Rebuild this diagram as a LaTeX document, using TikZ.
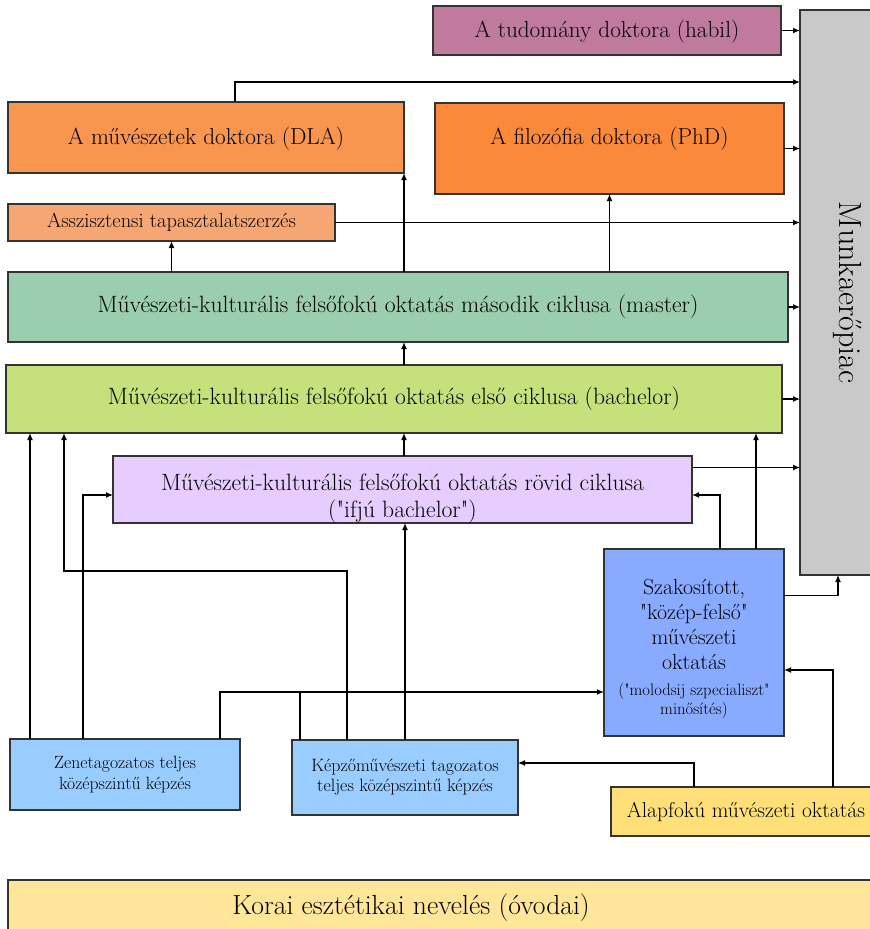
\documentclass[tikz,border=0pt]{standalone}
\usepackage{fontspec}
\setmainfont{Latin Modern Roman}[Ligatures=TeXOff]
\usetikzlibrary{arrows.meta}

\definecolor{habilc}{RGB}{192,122,158}
\definecolor{munkac}{RGB}{201,201,201}
\definecolor{dlac}{RGB}{248,150,80}
\definecolor{phdc}{RGB}{250,138,58}
\definecolor{asszc}{RGB}{246,166,115}
\definecolor{masterc}{RGB}{155,205,175}
\definecolor{bachc}{RGB}{198,224,124}
\definecolor{rovidc}{RGB}{230,204,255}
\definecolor{szakc}{RGB}{136,170,255}
\definecolor{kozepc}{RGB}{153,204,255}
\definecolor{alapc}{RGB}{255,224,120}
\definecolor{koraic}{RGB}{255,230,153}

\tikzset{
  box/.style={draw=black!80, line width=1.4pt, anchor=north west,
    inner sep=0pt, outer sep=0pt, align=center},
  arr/.style={line width=1.3pt, -{Latex[length=7pt,width=6pt]}},
  ln/.style={line width=1.3pt},
}

\begin{document}
\begin{tikzpicture}[x=1pt,y=-1pt]
  \useasboundingbox (0,0) rectangle (870,929);

  \node[box, fill=habilc, minimum width=348pt, minimum height=49pt, text depth=3pt,
    font=\fontsize{23.2}{27}\selectfont] (habil) at (433,6) {A tudomány doktora (habil)};
  \node[box, fill=munkac, minimum width=95pt, minimum height=565pt,
    font=\fontsize{32}{36}\selectfont] (munka) at (800,10) {\rotatebox{-90}{Munkaerőpiac}};
  \node[box, fill=dlac, minimum width=396pt, minimum height=71pt, text depth=3pt,
    font=\fontsize{23.2}{27}\selectfont] (dla) at (8,102) {A művészetek doktora (DLA)};
  \node[box, fill=phdc, minimum width=349pt, minimum height=91pt, text depth=25pt,
    font=\fontsize{23.2}{27}\selectfont] (phd) at (435,103) {A filozófia doktora (PhD)};
  \node[box, fill=asszc, minimum width=327pt, minimum height=37pt,
    font=\fontsize{20.5}{24}\selectfont] (assz) at (8,204) {Asszisztensi tapasztalatszerzés};
  \node[box, fill=masterc, minimum width=780pt, minimum height=70pt,
    font=\fontsize{23.6}{27}\selectfont] (master) at (8,272)
    {Művészeti-kulturális felsőfokú oktatás második ciklusa (master)};
  \node[box, fill=bachc, minimum width=776pt, minimum height=68pt,
    font=\fontsize{23.6}{27}\selectfont] (bach) at (6,365)
    {Művészeti-kulturális felsőfokú oktatás első ciklusa (bachelor)};
  \node[box, fill=rovidc, minimum width=579pt, minimum height=67pt,
    font=\fontsize{23.6}{27}\selectfont] (rovid) at (113,456)
    {\rule{0pt}{34pt}Művészeti-kulturális felsőfokú oktatás rövid ciklusa\\("ifjú bachelor")};
  \node[box, fill=szakc, minimum width=180pt, minimum height=187pt,
    font=\fontsize{21.8}{25}\selectfont] (szak) at (604,549)
    {\rule{0pt}{28pt}Szakosított,\\"közép-felső"\\művészeti\\oktatás\\[1pt]
     {\fontsize{16.6}{19}\selectfont ("molodsij szpecialiszt"}\\[-6pt]
     {\fontsize{16.6}{19}\selectfont minősítés)}};
  \node[box, fill=kozepc, minimum width=230pt, minimum height=71pt,
    font=\fontsize{17.7}{20.5}\selectfont] (zene) at (10,739)
    {Zenetagozatos teljes\\középszintű képzés};
  \node[box, fill=kozepc, minimum width=226pt, minimum height=75pt,
    font=\fontsize{17.9}{20}\selectfont] (kepzo) at (292,740)
    {Képzőművészeti tagozatos\\teljes középszintű képzés};
  \node[box, fill=alapc, minimum width=261pt, minimum height=49pt,
    font=\fontsize{21.5}{25}\selectfont] (alap) at (611,787) {\hspace*{9pt}Alapfokú művészeti oktatás};
  \node[box, fill=koraic, minimum width=864pt, minimum height=56pt,
    font=\fontsize{27.6}{31}\selectfont] (korai) at (8,880) {\raisebox{2pt}{Korai esztétikai nevelés (óvodai)}\hspace*{58pt}};

  % into the labour market
  \draw[arr] (habil.east) -- (habil.east -| munka.west);
  \draw[arr] ([xshift=29pt]dla.north) -- ++(0,-20) coordinate (d1) -- (d1 -| munka.west);
  \draw[arr] (phd.east) -- (phd.east -| munka.west);
  \draw[arr] (assz.east) -- (assz.east -| munka.west);
  \draw[arr] (master.east) -- (master.east -| munka.west);
  \draw[arr] (bach.east) -- (bach.east -| munka.west);
  \draw[arr] ([yshift=22pt]rovid.east) coordinate (r1) -- (r1 -| munka.west);
  \draw[arr] ([yshift=47pt]szak.east) -| ([xshift=38pt]munka.south west);

  % upwards
  \draw[arr] (master.north -| dla.south east) -- (dla.south east);
  \draw[arr] (master.north -| phd.south) -- (phd.south);
  \draw[arr] (master.north -| assz.south) -- (assz.south);
  \draw[arr] (bach.north -| dla.south east) -- (master.south -| dla.south east);
  \draw[arr] (rovid.north -| dla.south east) -- (bach.south -| dla.south east);
  \draw[arr] ([xshift=-28pt]szak.north east) coordinate (s1) -- (s1 |- bach.south);
  \draw[arr] ([xshift=-64pt]szak.north east) |- ([yshift=-5.5pt]rovid.east);

  % from the secondary level
  \draw[arr] ([xshift=20pt]zene.north west) coordinate (z1) -- (z1 |- bach.south);
  \draw[arr] ([xshift=73pt]zene.north west) |- ([yshift=-5.5pt]rovid.west);
  \draw[arr] ([xshift=210pt]zene.north west) -- ++(0,-47) coordinate (zs) -- (zs -| szak.west);
  \draw[ln] ([xshift=-105pt]kepzo.north) coordinate (k1) -- (k1 |- zs);
  \draw[arr] ([xshift=-58pt]kepzo.north) -- ++(0,-169) -| ([xshift=58pt]bach.south west);
  \draw[arr] (kepzo.north) -- (kepzo.north |- rovid.south);
  \draw[arr] ([xshift=83pt]alap.north west) |- ([yshift=14.5pt]kepzo.east);
  \draw[arr] ([xshift=222pt]alap.north west) |- ([yshift=-27.5pt]szak.east);
\end{tikzpicture}
\end{document}
